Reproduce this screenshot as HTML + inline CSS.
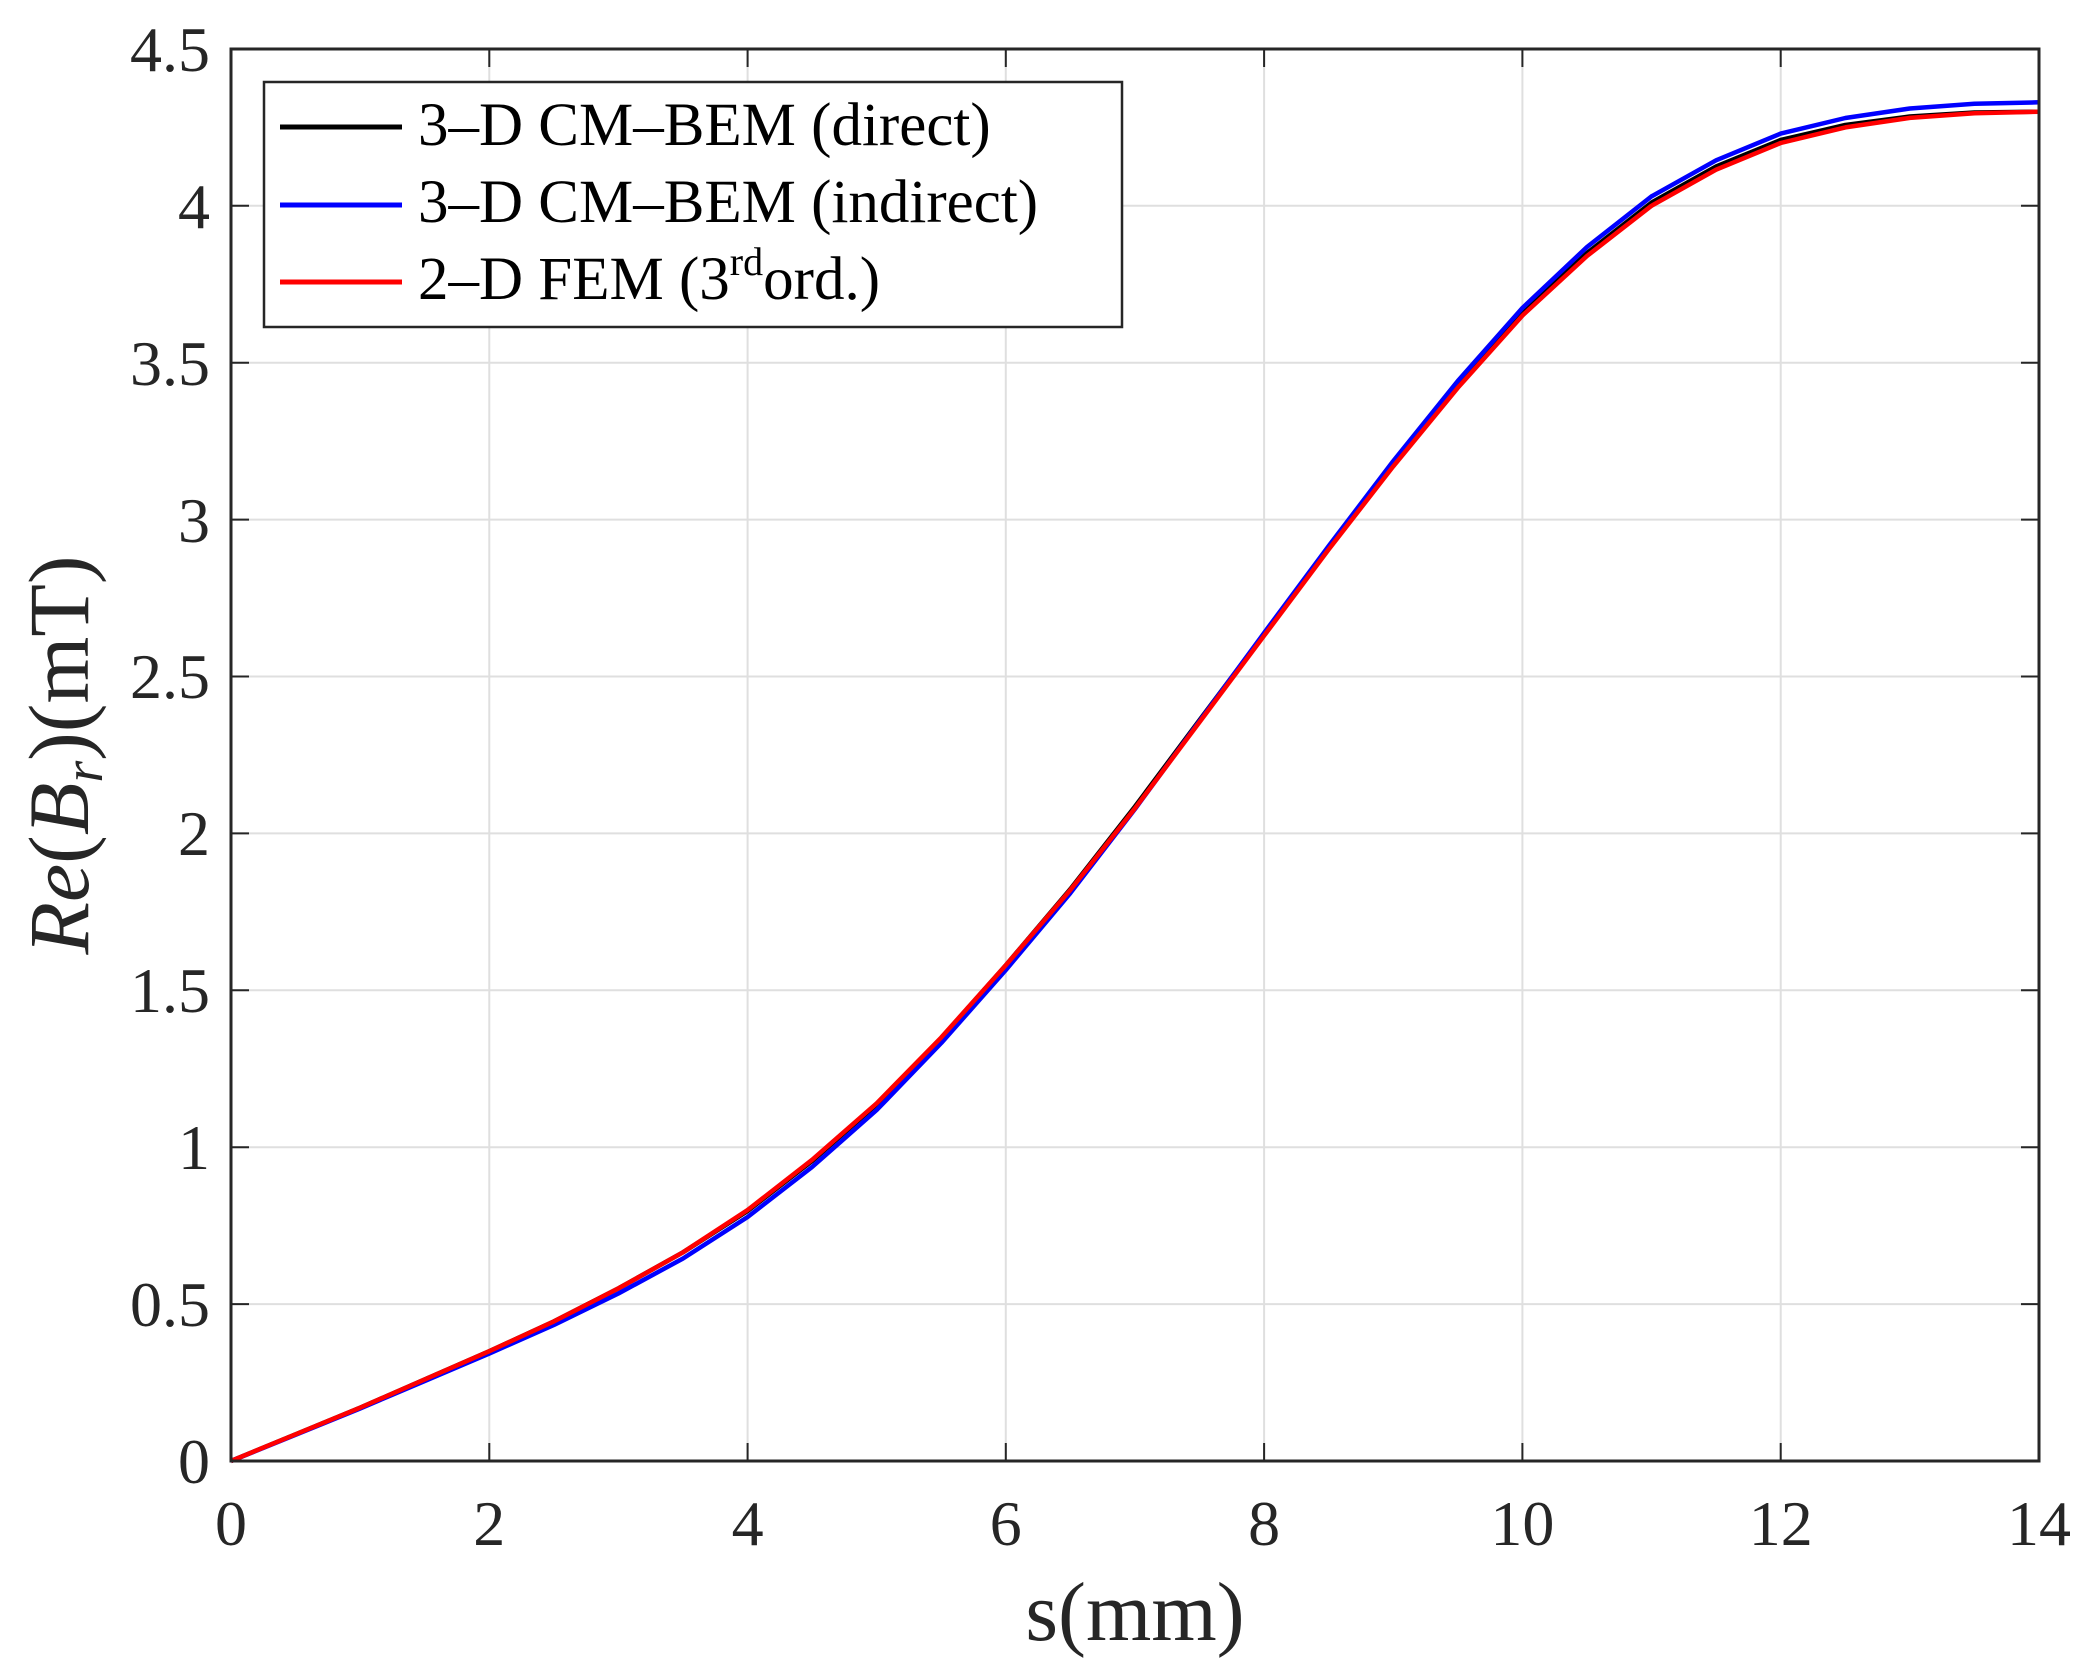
<!DOCTYPE html>
<html><head><meta charset="utf-8"><style>
html,body{margin:0;padding:0;background:#fff;}
svg{display:block;}
text{font-family:"Liberation Serif",serif;fill:#262626;}
</style></head><body>
<svg width="2084" height="1680" viewBox="0 0 2084 1680" xmlns="http://www.w3.org/2000/svg">
<rect width="2084" height="1680" fill="#fff"/>
<g stroke="#dfdfdf" stroke-width="2">
<line x1="489.3" y1="49" x2="489.3" y2="1461"/><line x1="747.6" y1="49" x2="747.6" y2="1461"/>
<line x1="1005.8" y1="49" x2="1005.8" y2="1461"/><line x1="1264.1" y1="49" x2="1264.1" y2="1461"/>
<line x1="1522.4" y1="49" x2="1522.4" y2="1461"/><line x1="1780.7" y1="49" x2="1780.7" y2="1461"/>
<line x1="231" y1="1304.1" x2="2039" y2="1304.1"/><line x1="231" y1="1147.2" x2="2039" y2="1147.2"/>
<line x1="231" y1="990.3" x2="2039" y2="990.3"/><line x1="231" y1="833.4" x2="2039" y2="833.4"/>
<line x1="231" y1="676.5" x2="2039" y2="676.5"/><line x1="231" y1="519.6" x2="2039" y2="519.6"/>
<line x1="231" y1="362.7" x2="2039" y2="362.7"/><line x1="231" y1="205.8" x2="2039" y2="205.8"/>
</g>
<g stroke="#262626" stroke-width="2">
<path d="M489.3 1461v-18M747.6 1461v-18M1005.8 1461v-18M1264.1 1461v-18M1522.4 1461v-18M1780.7 1461v-18
M489.3 49v18M747.6 49v18M1005.8 49v18M1264.1 49v18M1522.4 49v18M1780.7 49v18
M231 1304.1h18M231 1147.2h18M231 990.3h18M231 833.4h18M231 676.5h18M231 519.6h18M231 362.7h18M231 205.8h18
M2039 1304.1h-18M2039 1147.2h-18M2039 990.3h-18M2039 833.4h-18M2039 676.5h-18M2039 519.6h-18M2039 362.7h-18M2039 205.8h-18"/>
</g>
<g fill="none" stroke-width="4.5" stroke-linejoin="round">
<polyline stroke="#000" points="231,1461 295.6,1434.3 360.1,1407.7 424.7,1379.4 489.3,1351.2 553.9,1321.4 618.4,1288.4 683,1252.3 747.6,1211 812.1,1161 876.7,1104.3 941.3,1038 1005.8,965.2 1070.4,889 1135,806.5 1199.6,720 1264.1,634 1328.7,548 1393.3,465 1457.8,386 1522.4,313 1587,253 1651.5,202.6 1716.1,166.5 1780.7,140 1845.3,125 1909.8,116.5 1974.4,112.5 2039,111.7"/>
<polyline stroke="#0000ff" points="231,1461 295.6,1434.8 360.1,1408.5 424.7,1381 489.3,1353.5 553.9,1325 618.4,1293.5 683,1258.5 747.6,1217 812.1,1167 876.7,1110 941.3,1043 1005.8,970 1070.4,893 1135,809 1199.6,721 1264.1,633 1328.7,546 1393.3,461 1457.8,381 1522.4,308 1587,247 1651.5,196.4 1716.1,160.3 1780.7,133.6 1845.3,118 1909.8,108.5 1974.4,103.8 2039,102.3"/>
<polyline stroke="#ff0000" points="231,1461 295.6,1434.3 360.1,1407.7 424.7,1379.4 489.3,1351.2 553.9,1321.4 618.4,1288.4 683,1252.3 747.6,1210 812.1,1159.8 876.7,1103.3 941.3,1037.4 1005.8,965.2 1070.4,889.9 1135,808.3 1199.6,722 1264.1,635.7 1328.7,549.4 1393.3,466.3 1457.8,387.8 1522.4,315.6 1587,256 1651.5,205.8 1716.1,169.7 1780.7,143 1845.3,127.4 1909.8,117.9 1974.4,113.2 2039,111.7"/>
</g>
<rect x="231" y="49" width="1808" height="1412" fill="none" stroke="#262626" stroke-width="3"/>
<rect x="264" y="82" width="858" height="245" fill="#fff" stroke="#262626" stroke-width="2.5"/>
<line x1="280" y1="127" x2="402" y2="127" stroke="#000" stroke-width="5"/>
<line x1="280" y1="205" x2="402" y2="205" stroke="#0000ff" stroke-width="5"/>
<line x1="280" y1="282" x2="402" y2="282" stroke="#ff0000" stroke-width="5"/>
<g font-size="61">
<text x="418" y="145" style="fill:#000">3–D CM–BEM (direct)</text>
<text x="418" y="222" style="fill:#000">3–D CM–BEM (indirect)</text>
<text x="418" y="299" style="fill:#000">2–D FEM (3<tspan font-size="40" dy="-24">rd</tspan><tspan dy="24">ord.)</tspan></text>
</g>
<g font-size="64" text-anchor="middle">
<text x="231" y="1545">0</text><text x="489.3" y="1545">2</text><text x="747.6" y="1545">4</text>
<text x="1005.8" y="1545">6</text><text x="1264.1" y="1545">8</text><text x="1522.4" y="1545">10</text>
<text x="1780.7" y="1545">12</text><text x="2039" y="1545">14</text>
</g>
<g font-size="64" text-anchor="end">
<text x="210" y="1483">0</text><text x="210" y="1326">0.5</text><text x="210" y="1169">1</text>
<text x="210" y="1012">1.5</text><text x="210" y="855">2</text><text x="210" y="698">2.5</text>
<text x="210" y="542">3</text><text x="210" y="385">3.5</text><text x="210" y="228">4</text>
<text x="210" y="71">4.5</text>
</g>
<text x="1135" y="1640" font-size="84" text-anchor="middle">s(mm)</text>
<text transform="translate(88 755) rotate(-90)" font-size="86" text-anchor="middle"><tspan font-style="italic">Re</tspan>(<tspan font-style="italic">B</tspan><tspan font-style="italic" font-size="56" dy="14">r</tspan><tspan dy="-14">)(mT)</tspan></text>
</svg>
</body></html>
